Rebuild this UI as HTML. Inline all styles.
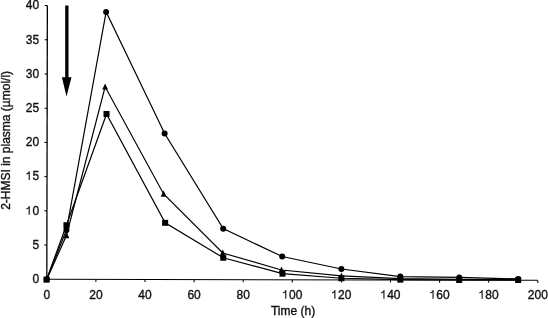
<!DOCTYPE html>
<html><head><meta charset="utf-8"><style>
html,body{margin:0;padding:0;background:#fff;width:548px;height:318px;overflow:hidden}
svg{display:block}
</style></head><body>
<svg width="548" height="318" viewBox="0 0 548 318">
<defs><filter id="b" x="-5%" y="-5%" width="110%" height="110%"><feGaussianBlur stdDeviation="0.35"/></filter></defs>
<g filter="url(#b)">
<g stroke="#000" stroke-width="1.05" fill="none">
<line x1="47.36" y1="5.50" x2="46.80" y2="279.80" stroke-width="1.3"/>
<line x1="46.30" y1="279.30" x2="537.80" y2="280.30"/>
<line x1="44.20" y1="279.29" x2="46.80" y2="279.30"/>
<line x1="44.27" y1="245.07" x2="46.87" y2="245.08"/>
<line x1="44.34" y1="210.84" x2="46.94" y2="210.85"/>
<line x1="44.41" y1="176.62" x2="47.01" y2="176.62"/>
<line x1="44.48" y1="142.39" x2="47.08" y2="142.40"/>
<line x1="44.55" y1="108.17" x2="47.15" y2="108.18"/>
<line x1="44.62" y1="73.94" x2="47.22" y2="73.95"/>
<line x1="44.69" y1="39.72" x2="47.29" y2="39.73"/>
<line x1="44.76" y1="5.49" x2="47.36" y2="5.50"/>
<line x1="46.80" y1="279.30" x2="46.79" y2="281.90"/>
<line x1="95.90" y1="279.40" x2="95.89" y2="282.00"/>
<line x1="145.00" y1="279.50" x2="144.99" y2="282.10"/>
<line x1="194.10" y1="279.60" x2="194.09" y2="282.20"/>
<line x1="243.20" y1="279.70" x2="243.19" y2="282.30"/>
<line x1="292.30" y1="279.80" x2="292.29" y2="282.40"/>
<line x1="341.40" y1="279.90" x2="341.39" y2="282.50"/>
<line x1="390.50" y1="280.00" x2="390.49" y2="282.60"/>
<line x1="439.60" y1="280.10" x2="439.59" y2="282.70"/>
<line x1="488.70" y1="280.20" x2="488.69" y2="282.80"/>
<line x1="537.80" y1="280.30" x2="537.79" y2="282.90"/>
</g>
<polyline fill="none" stroke="#000" stroke-width="1.20" stroke-linejoin="miter" points="46.80,279.30 66.44,230.02 106.12,12.00 164.64,133.50 223.16,228.65 282.18,256.51 341.40,269.03 400.32,276.56 459.24,277.38 518.16,278.96"/>
<polyline fill="none" stroke="#000" stroke-width="1.20" stroke-linejoin="miter" points="46.80,279.30 66.44,235.49 105.12,86.82 163.64,194.01 222.76,253.02 281.48,269.99 341.40,275.88 400.32,278.62 459.24,279.30 518.16,279.64"/>
<polyline fill="none" stroke="#000" stroke-width="1.20" stroke-linejoin="miter" points="46.50,279.64 66.44,225.22 106.52,113.99 165.14,222.83 223.26,257.74 282.48,273.69 341.40,278.27 400.32,279.64 459.24,279.98 518.16,279.98"/>
<polygon fill="#000" points="46.80,275.89 43.90,282.09 49.70,282.09"/>
<polygon fill="#000" points="66.44,232.08 63.54,238.28 69.34,238.28"/>
<polygon fill="#000" points="105.12,83.41 102.22,89.61 108.02,89.61"/>
<polygon fill="#000" points="163.64,190.60 160.74,196.80 166.54,196.80"/>
<polygon fill="#000" points="222.76,249.61 219.86,255.81 225.66,255.81"/>
<polygon fill="#000" points="281.48,266.58 278.58,272.78 284.38,272.78"/>
<polygon fill="#000" points="341.40,272.47 338.50,278.67 344.30,278.67"/>
<polygon fill="#000" points="400.32,275.21 397.42,281.41 403.22,281.41"/>
<polygon fill="#000" points="459.24,275.89 456.34,282.09 462.14,282.09"/>
<polygon fill="#000" points="518.16,276.23 515.26,282.43 521.06,282.43"/>
<rect x="43.50" y="276.64" width="6.00" height="6.00" fill="#000"/>
<rect x="63.44" y="222.22" width="6.00" height="6.00" fill="#000"/>
<rect x="103.52" y="110.99" width="6.00" height="6.00" fill="#000"/>
<rect x="162.14" y="219.83" width="6.00" height="6.00" fill="#000"/>
<rect x="220.26" y="254.74" width="6.00" height="6.00" fill="#000"/>
<rect x="279.48" y="270.69" width="6.00" height="6.00" fill="#000"/>
<rect x="338.40" y="275.27" width="6.00" height="6.00" fill="#000"/>
<rect x="397.32" y="276.64" width="6.00" height="6.00" fill="#000"/>
<rect x="456.24" y="276.98" width="6.00" height="6.00" fill="#000"/>
<rect x="515.16" y="276.98" width="6.00" height="6.00" fill="#000"/>
<circle cx="46.80" cy="279.30" r="3.00" fill="#000"/>
<circle cx="66.44" cy="230.02" r="3.00" fill="#000"/>
<circle cx="106.12" cy="12.00" r="3.00" fill="#000"/>
<circle cx="164.64" cy="133.50" r="3.00" fill="#000"/>
<circle cx="223.16" cy="228.65" r="3.00" fill="#000"/>
<circle cx="282.18" cy="256.51" r="3.00" fill="#000"/>
<circle cx="341.40" cy="269.03" r="3.00" fill="#000"/>
<circle cx="400.32" cy="276.56" r="3.00" fill="#000"/>
<circle cx="459.24" cy="277.38" r="3.00" fill="#000"/>
<circle cx="518.16" cy="278.96" r="3.00" fill="#000"/>
<rect x="65.2" y="5.5" width="3.3" height="73" fill="#000"/>
<polygon fill="#000" points="61.9,77.2 71.5,77.2 66.5,96.4"/>
<g font-family="Liberation Sans, sans-serif" font-size="12.0" fill="#111" stroke="#111" stroke-width="0.35">
<text x="32.428" y="283.150">0</text>
<text x="32.428" y="248.925">5</text>
<path transform="translate(25.756,214.700) scale(0.00586,-0.00586)" d="M685 0L495 0L495 1100C440 1050 370 1005 290 970C230 945 170 925 110 912L110 1090C220 1120 320 1170 400 1240C470 1300 520 1380 545 1466L685 1466Z"/><text x="32.428" y="214.700">0</text>
<path transform="translate(25.756,179.875) scale(0.00586,-0.00586)" d="M685 0L495 0L495 1100C440 1050 370 1005 290 970C230 945 170 925 110 912L110 1090C220 1120 320 1170 400 1240C470 1300 520 1380 545 1466L685 1466Z"/><text x="32.428" y="179.875">5</text>
<text x="25.756" y="146.250">2</text><text x="32.428" y="146.250">0</text>
<text x="25.756" y="112.025">2</text><text x="32.428" y="112.025">5</text>
<text x="25.756" y="77.800">3</text><text x="32.428" y="77.800">0</text>
<text x="25.756" y="43.575">3</text><text x="32.428" y="43.575">5</text>
<text x="25.756" y="8.600">4</text><text x="32.428" y="8.600">0</text>
<text x="43.464" y="298.700">0</text>
<text x="89.228" y="298.700">2</text><text x="95.900" y="298.700">0</text>
<text x="138.328" y="298.700">4</text><text x="145.000" y="298.700">0</text>
<text x="187.428" y="298.700">6</text><text x="194.100" y="298.700">0</text>
<text x="236.528" y="298.700">8</text><text x="243.200" y="298.700">0</text>
<path transform="translate(282.292,298.700) scale(0.00586,-0.00586)" d="M685 0L495 0L495 1100C440 1050 370 1005 290 970C230 945 170 925 110 912L110 1090C220 1120 320 1170 400 1240C470 1300 520 1380 545 1466L685 1466Z"/><text x="288.964" y="298.700">0</text><text x="295.636" y="298.700">0</text>
<path transform="translate(331.392,298.700) scale(0.00586,-0.00586)" d="M685 0L495 0L495 1100C440 1050 370 1005 290 970C230 945 170 925 110 912L110 1090C220 1120 320 1170 400 1240C470 1300 520 1380 545 1466L685 1466Z"/><text x="338.064" y="298.700">2</text><text x="344.736" y="298.700">0</text>
<path transform="translate(380.492,298.700) scale(0.00586,-0.00586)" d="M685 0L495 0L495 1100C440 1050 370 1005 290 970C230 945 170 925 110 912L110 1090C220 1120 320 1170 400 1240C470 1300 520 1380 545 1466L685 1466Z"/><text x="387.164" y="298.700">4</text><text x="393.836" y="298.700">0</text>
<path transform="translate(429.592,298.700) scale(0.00586,-0.00586)" d="M685 0L495 0L495 1100C440 1050 370 1005 290 970C230 945 170 925 110 912L110 1090C220 1120 320 1170 400 1240C470 1300 520 1380 545 1466L685 1466Z"/><text x="436.264" y="298.700">6</text><text x="442.936" y="298.700">0</text>
<path transform="translate(478.692,298.700) scale(0.00586,-0.00586)" d="M685 0L495 0L495 1100C440 1050 370 1005 290 970C230 945 170 925 110 912L110 1090C220 1120 320 1170 400 1240C470 1300 520 1380 545 1466L685 1466Z"/><text x="485.364" y="298.700">8</text><text x="492.036" y="298.700">0</text>
<text x="527.792" y="298.700">2</text><text x="534.464" y="298.700">0</text><text x="541.136" y="298.700">0</text>
<text x="293.1" y="314.9" text-anchor="middle">Time (h)</text>
<text transform="translate(10.3,140.4) rotate(-90)" text-anchor="middle">2-HMSI in plasma (µmol/l)</text>
</g>
</g>
</svg>
</body></html>
